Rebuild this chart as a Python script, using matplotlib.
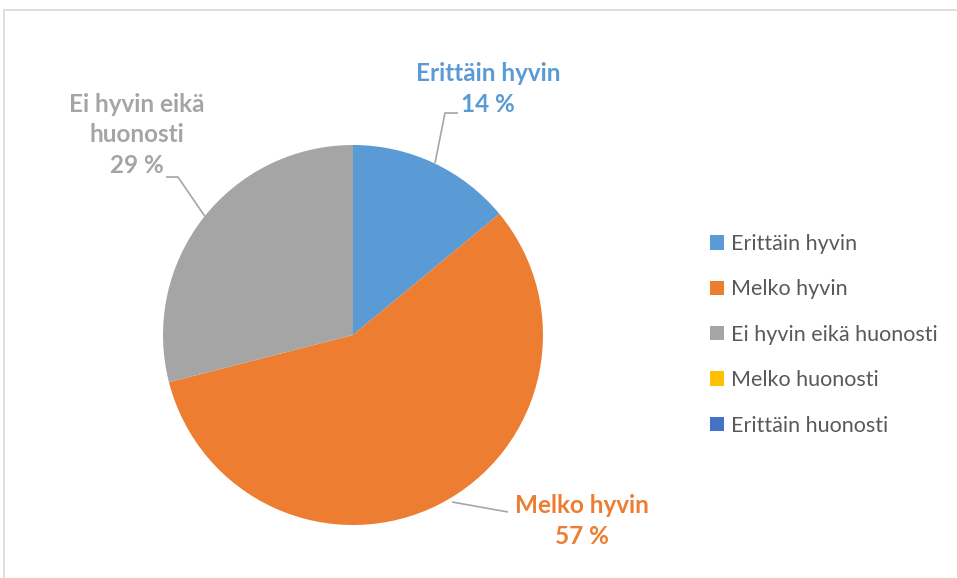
import matplotlib
matplotlib.use("Agg")
import matplotlib.pyplot as plt
from matplotlib.patches import Rectangle

categories = ["Erittäin hyvin", "Melko hyvin", "Ei hyvin eikä huonosti", "Melko huonosti", "Erittäin huonosti"]
values = [14, 57, 29, 0, 0]
colors = ["#5B9BD5", "#ED7D31", "#A5A5A5", "#FFC000", "#4472C4"]
label_texts = ["Erittäin hyvin\n14 %", "Melko hyvin\n57 %", "Ei hyvin eikä\nhuonosti\n29 %"]

W, H = 957, 578
plt.rcParams['font.family'] = ['Lato', 'DejaVu Sans']
fig = plt.figure(figsize=(W / 100, H / 100), dpi=100)
ax = fig.add_axes([0, 0, 1, 1])

# chart frame
fig.patches.append(Rectangle((4 / W, -0.1), 1.2, (H - 10) / H + 0.1, transform=fig.transFigure,
                             fill=False, edgecolor="#D9D9D9", linewidth=1.2))

cx, cy, r = 353, H - 335, 190
wedges, _ = ax.pie(values, colors=colors, startangle=90, counterclock=False,
                   center=(cx, cy), radius=r, frame=True,
                   wedgeprops=dict(linewidth=0))
ax.set_xlim(0, W)
ax.set_ylim(0, H)
ax.set_aspect('equal')
ax.axis('off')

# data labels with leader lines (positions in pixel coords, y from top)
lab_pos = [(488, 89), (582, 521), (137, 135)]
leaders = [[(435, 163), (445, 113), (458, 113)],
           [(452, 502), (508, 512)],
           [(206, 218), (178, 177), (166, 177)]]
for i, txt in enumerate(label_texts):
    x, y = lab_pos[i]
    ax.text(x, H - y, txt, ha='center', va='center', fontsize=17.5, fontweight='bold',
            color=colors[i], linespacing=1.4)
    pts = leaders[i]
    ax.plot([p[0] for p in pts], [H - p[1] for p in pts], color="#A6A6A6", linewidth=1.2,
            solid_capstyle='butt')

leg = ax.legend(wedges, categories, loc='upper left', bbox_to_anchor=(710 / W, 1 - 234 / H),
                frameon=False, fontsize=15.5, handlelength=0.65, handleheight=0.65,
                handletextpad=0.32, labelspacing=1.18, labelcolor="#595959",
                borderaxespad=0, borderpad=0)

fig.savefig("out.png", dpi=100)
